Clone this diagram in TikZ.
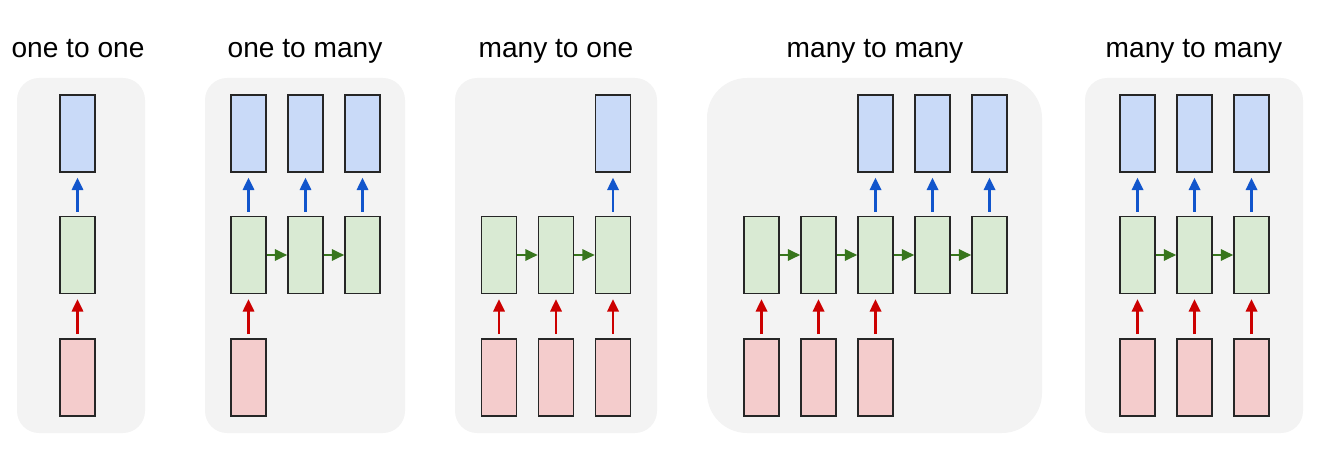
\documentclass[tikz,border=0pt]{standalone}
\usepackage{fontspec}
\setmainfont{Liberation Sans}
\usetikzlibrary{arrows.meta}

\definecolor{panelgray}{HTML}{F3F3F3}
\definecolor{outfill}{HTML}{C9DAF8}
\definecolor{hidfill}{HTML}{D9EAD3}
\definecolor{infill}{HTML}{F4CCCC}
\definecolor{outline}{HTML}{1155CC}
\definecolor{recline}{HTML}{38761D}
\definecolor{inline}{HTML}{CC0000}

\begin{document}
\begin{tikzpicture}[
    x=0.02cm, y=-0.02cm,
    panel/.style={fill=panelgray, rounded corners=0.44cm},
    cell/.style={rectangle, draw=black!85, line width=0.9pt, inner sep=0pt,
                 minimum width=0.7cm, minimum height=1.54cm},
    outcell/.style={cell, fill=outfill},
    hidcell/.style={cell, fill=hidfill},
    incell/.style={cell, fill=infill},
    title/.style={anchor=base, inner sep=0pt, font=\fontsize{16}{19}\selectfont},
    tip/.style={-{Triangle[length=7pt, width=6.4pt]}, line width=1.4pt},
    outarrow/.style={tip, draw=outline, shorten <=2.3pt, shorten >=2.8pt},
    inarrow/.style={tip, draw=inline, shorten <=2.3pt, shorten >=2.8pt},
    recarrow/.style={tip, draw=recline}
]
\useasboundingbox (0,0) rectangle (1331,476);

%=== PANEL 1: one to one ===
\fill[panel] (17,78) rectangle (145,433);
\node[title] (t1) at (78,58) {one to one};
\node[outcell] (y11) at (77.5,133.5) {};
\node[hidcell] (h11) at (77.5,255)   {};
\node[incell]  (x11) at (77.5,377.5) {};
\draw[inarrow]  (x11) -- (h11);
\draw[outarrow] (h11) -- (y11);

%=== PANEL 2: one to many ===
\fill[panel] (205,78) rectangle (405,433);
\node[title] (t2) at (305,58) {one to many};
\node[outcell] (y21) at (248.5,133.5) {};
\node[outcell] (y22) at (305.5,133.5) {};
\node[outcell] (y23) at (362.5,133.5) {};
\node[hidcell] (h21) at (248.5,255) {};
\node[hidcell] (h22) at (305.5,255) {};
\node[hidcell] (h23) at (362.5,255) {};
\node[incell]  (x21) at (248.5,377.5) {};
\draw[inarrow]  (x21) -- (h21);
\draw[recarrow] (h21) -- (h22);
\draw[recarrow] (h22) -- (h23);
\draw[outarrow] (h21) -- (y21);
\draw[outarrow] (h22) -- (y22);
\draw[outarrow] (h23) -- (y23);

%=== PANEL 3: many to one ===
\fill[panel] (455,78) rectangle (657,433);
\node[title] (t3) at (556,58) {many to one};
\node[outcell] (y33) at (613,133.5) {};
\node[hidcell] (h31) at (499,255) {};
\node[hidcell] (h32) at (556,255) {};
\node[hidcell] (h33) at (613,255) {};
\node[incell]  (x31) at (499,377.5) {};
\node[incell]  (x32) at (556,377.5) {};
\node[incell]  (x33) at (613,377.5) {};
\draw[inarrow]  (x31) -- (h31);
\draw[inarrow]  (x32) -- (h32);
\draw[inarrow]  (x33) -- (h33);
\draw[recarrow] (h31) -- (h32);
\draw[recarrow] (h32) -- (h33);
\draw[outarrow] (h33) -- (y33);

%=== PANEL 4: many to many (delayed) ===
\fill[panel, rounded corners=0.8cm] (707,78) rectangle (1042,433);
\node[title] (t4) at (875,58) {many to many};
\node[outcell] (y43) at (875.5,133.5) {};
\node[outcell] (y44) at (932.5,133.5) {};
\node[outcell] (y45) at (989.5,133.5) {};
\node[hidcell] (h41) at (761.5,255) {};
\node[hidcell] (h42) at (818.5,255) {};
\node[hidcell] (h43) at (875.5,255) {};
\node[hidcell] (h44) at (932.5,255) {};
\node[hidcell] (h45) at (989.5,255) {};
\node[incell]  (x41) at (761.5,377.5) {};
\node[incell]  (x42) at (818.5,377.5) {};
\node[incell]  (x43) at (875.5,377.5) {};
\draw[inarrow]  (x41) -- (h41);
\draw[inarrow]  (x42) -- (h42);
\draw[inarrow]  (x43) -- (h43);
\draw[recarrow] (h41) -- (h42);
\draw[recarrow] (h42) -- (h43);
\draw[recarrow] (h43) -- (h44);
\draw[recarrow] (h44) -- (h45);
\draw[outarrow] (h43) -- (y43);
\draw[outarrow] (h44) -- (y44);
\draw[outarrow] (h45) -- (y45);

%=== PANEL 5: many to many (synced) ===
\fill[panel] (1085,78) rectangle (1303,433);
\node[title] (t5) at (1194,58) {many to many};
\node[outcell] (y51) at (1137.5,133.5) {};
\node[outcell] (y52) at (1194.5,133.5) {};
\node[outcell] (y53) at (1251.5,133.5) {};
\node[hidcell] (h51) at (1137.5,255) {};
\node[hidcell] (h52) at (1194.5,255) {};
\node[hidcell] (h53) at (1251.5,255) {};
\node[incell]  (x51) at (1137.5,377.5) {};
\node[incell]  (x52) at (1194.5,377.5) {};
\node[incell]  (x53) at (1251.5,377.5) {};
\draw[inarrow]  (x51) -- (h51);
\draw[inarrow]  (x52) -- (h52);
\draw[inarrow]  (x53) -- (h53);
\draw[recarrow] (h51) -- (h52);
\draw[recarrow] (h52) -- (h53);
\draw[outarrow] (h51) -- (y51);
\draw[outarrow] (h52) -- (y52);
\draw[outarrow] (h53) -- (y53);

\end{tikzpicture}
\end{document}
